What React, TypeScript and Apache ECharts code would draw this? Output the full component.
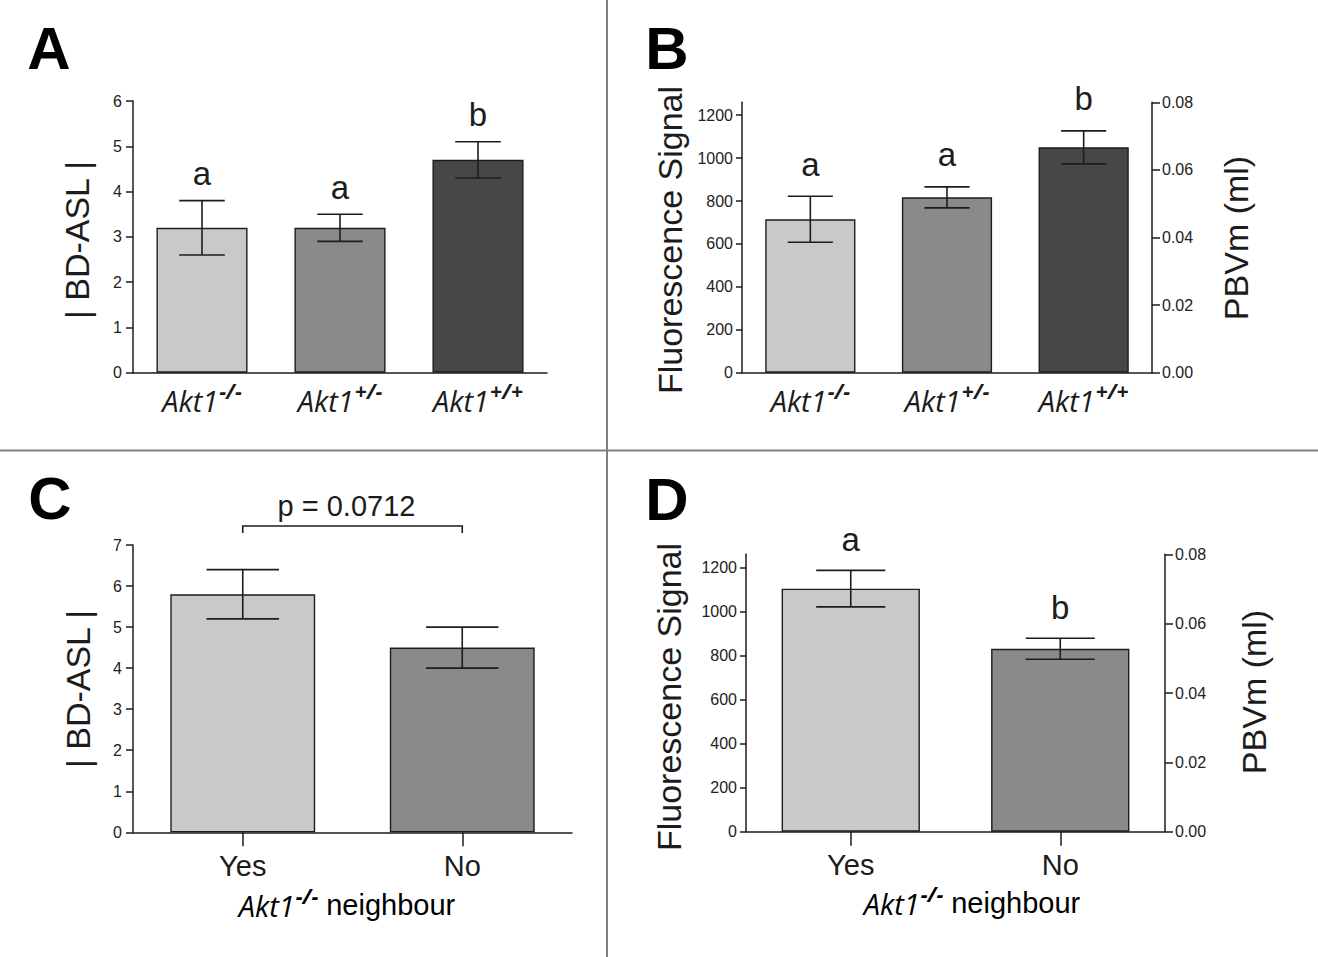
import React, { useEffect, useRef } from 'react';
import * as echarts from 'echarts';

// ---------- data ----------
const genotypes = ['-/-', '+/-', '+/+'];
const neighbourCats = ['Yes', 'No'];

const bdAslA = [3.2, 3.2, 4.7];
const bdAslAErr = [0.6, 0.3, 0.4];
const lettersA = ['a', 'a', 'b'];

const fluoB = [715, 817, 1050];
const fluoBErr = [107, 49, 77];
const lettersB = ['a', 'a', 'b'];

const bdAslC = [5.8, 4.5];
const bdAslCErr = [0.6, 0.5];
const pValueC = 'p = 0.0712';

const fluoD = [1104, 831];
const fluoDErr = [83, 48];
const lettersD = ['a', 'b'];

const ticksFluo = [0, 200, 400, 600, 800, 1000, 1200];

// ---------- styles ----------
const INK = '#1c1c1c';
const SANS = '"Liberation Sans", Arial, Helvetica, sans-serif';
const ITAL = '"Open Sans", "Liberation Sans", sans-serif';
const barColors3 = ['#c9c9c9', '#8a8a8a', '#474747'];
const barColors2 = ['#c9c9c9', '#8a8a8a'];

const grids = [
  { left: 133, top: 101, width: 414, height: 271.7 },
  { left: 742, top: 102.3, width: 410, height: 270.4 },
  { left: 133, top: 545, width: 439, height: 287.3 },
  { left: 746, top: 554.3, width: 419, height: 277.4 },
];

const axisLine = { show: true, lineStyle: { color: INK, width: 1.5 } };
const tickFont = { fontFamily: SANS, fontSize: 16, color: '#222' };

const genoRich = {
  it: { fontFamily: ITAL, fontStyle: 'italic', fontSize: 29, color: INK },
  sup: { fontFamily: ITAL, fontStyle: 'italic', fontWeight: 'bold', fontSize: 21, color: INK, verticalAlign: 'top', padding: [0, 0, 18, 1] },
};

function catAxis(gridIndex: number, data: string[], geno: boolean, ticks: boolean, margin: number) {
  return {
    type: 'category',
    gridIndex,
    data,
    axisLine,
    axisTick: { show: ticks, alignWithLabel: true, length: 14, lineStyle: { color: INK, width: 1.5 } },
    axisLabel: geno
      ? { margin, formatter: (v: string) => `{it|Akt1}{sup|${v}}`, rich: genoRich }
      : { margin, fontFamily: SANS, fontSize: 29, color: INK },
    splitLine: { show: false },
  };
}

function valAxis(gridIndex: number, extra: any) {
  return {
    type: 'value',
    gridIndex,
    axisLine,
    axisTick: { show: true, length: 7, lineStyle: { color: INK, width: 1.5 } },
    axisLabel: { ...tickFont, margin: 11, formatter: (v: number) => String(v) },
    splitLine: { show: false },
    ...extra,
  };
}

function fluoAxis(gridIndex: number) {
  return valAxis(gridIndex, {
    min: 0,
    max: 1260,
    axisTick: { show: true, length: 6, customValues: ticksFluo, lineStyle: { color: INK, width: 1.5 } },
    axisLabel: { ...tickFont, margin: 9, customValues: ticksFluo, formatter: (v: number) => String(v) },
  });
}

function pbvmAxis(gridIndex: number) {
  return valAxis(gridIndex, {
    position: 'right',
    min: 0,
    max: 0.08,
    interval: 0.02,
    axisTick: { show: true, length: 8, lineStyle: { color: INK, width: 1.5 } },
    axisLabel: { ...tickFont, margin: 10, formatter: (v: number) => v.toFixed(2) },
  });
}

function barSeries(xi: number, yi: number, values: number[], colors: string[]) {
  return {
    type: 'bar',
    xAxisIndex: xi,
    yAxisIndex: yi,
    barWidth: '66%',
    itemStyle: { borderColor: INK, borderWidth: 1.4 },
    data: values.map((v, i) => ({ value: v, itemStyle: { color: colors[i] } })),
  };
}

function errorSeries(xi: number, yi: number, means: number[], errs: number[], letters: string[] | null, gap: number) {
  return {
    type: 'custom',
    xAxisIndex: xi,
    yAxisIndex: yi,
    z: 5,
    clip: false,
    silent: true,
    encode: { x: 0, y: 1 },
    data: means.map((m, i) => [i, m, errs[i]]),
    renderItem: (params: any, api: any) => {
      const i = api.value(0);
      const m = api.value(1);
      const e = api.value(2);
      const top = api.coord([i, m + e]);
      const bot = api.coord([i, m - e]);
      const band = api.size([1, 0])[0];
      const hw = band * 0.165;
      const ls = { stroke: INK, lineWidth: 1.6 };
      const children: any[] = [
        { type: 'line', shape: { x1: top[0], y1: top[1], x2: bot[0], y2: bot[1] }, style: ls },
        { type: 'line', shape: { x1: top[0] - hw, y1: top[1], x2: top[0] + hw, y2: top[1] }, style: ls },
        { type: 'line', shape: { x1: bot[0] - hw, y1: bot[1], x2: bot[0] + hw, y2: bot[1] }, style: ls },
      ];
      if (letters) {
        children.push({
          type: 'text',
          x: top[0],
          y: top[1] - gap,
          style: {
            text: letters[params.dataIndex],
            align: 'center',
            verticalAlign: 'middle',
            fontSize: 33,
            fontFamily: SANS,
            fill: INK,
          },
        });
      }
      return { type: 'group', children };
    },
  };
}

function bracketSeries() {
  return {
    type: 'custom',
    xAxisIndex: 2,
    yAxisIndex: 3,
    z: 5,
    clip: false,
    silent: true,
    encode: { x: 0, y: 1 },
    data: [[0, 0]],
    renderItem: (params: any, api: any) => {
      const a = api.coord([0, 0]);
      const b = api.coord([1, 0]);
      const y = params.coordSys.y - 19;
      return {
        type: 'group',
        children: [
          {
            type: 'polyline',
            shape: { points: [[a[0], y + 7], [a[0], y], [b[0], y], [b[0], y + 7]] },
            style: { stroke: INK, lineWidth: 1.6, fill: null },
          },
          {
            type: 'text',
            x: (a[0] + b[0]) / 2 - 6,
            y: y - 20,
            style: { text: pValueC, align: 'center', verticalAlign: 'middle', fontSize: 29, fontFamily: SANS, fill: INK },
          },
        ],
      };
    },
  };
}

function rotText(text: string, x: number, y: number) {
  return {
    type: 'text',
    x,
    y,
    rotation: Math.PI / 2,
    style: { text, align: 'center', verticalAlign: 'middle', fontSize: 34, fontFamily: SANS, fill: INK },
  };
}

function panelLetter(text: string, x: number, y: number) {
  return {
    type: 'text',
    x,
    y,
    style: { text, align: 'center', verticalAlign: 'middle', fontSize: 60, fontWeight: 'bold', fontFamily: SANS, fill: '#000' },
  };
}

function neighbourName(x: number, y: number) {
  return {
    type: 'text',
    x,
    y,
    style: {
      text: '{it|Akt1}{sup|-/-}{n| neighbour}',
      align: 'center',
      verticalAlign: 'middle',
      rich: {
        ...genoRich,
        n: { fontFamily: SANS, fontSize: 29, color: INK },
      },
    },
  };
}

function buildOption(): any {
  return {
    animation: false,
    backgroundColor: '#ffffff',
    grid: grids.map((g) => ({ ...g, containLabel: false })),
    xAxis: [
      catAxis(0, genotypes, true, false, 8),
      catAxis(1, genotypes, true, false, 8),
      catAxis(2, neighbourCats, false, true, 19),
      catAxis(3, neighbourCats, false, true, 19),
    ],
    yAxis: [
      valAxis(0, { min: 0, max: 6, interval: 1 }),
      fluoAxis(1),
      pbvmAxis(1),
      valAxis(2, { min: 0, max: 7, interval: 1 }),
      fluoAxis(3),
      pbvmAxis(3),
    ],
    series: [
      barSeries(0, 0, bdAslA, barColors3),
      errorSeries(0, 0, bdAslA, bdAslAErr, lettersA, 27),
      barSeries(1, 1, fluoB, barColors3),
      errorSeries(1, 1, fluoB, fluoBErr, lettersB, 32),
      barSeries(2, 3, bdAslC, barColors2),
      errorSeries(2, 3, bdAslC, bdAslCErr, null, 0),
      bracketSeries(),
      barSeries(3, 4, fluoD, barColors2),
      errorSeries(3, 4, fluoD, fluoDErr, lettersD, 31),
    ],
    graphic: [
      { type: 'line', shape: { x1: 607, y1: 0, x2: 607, y2: 957 }, style: { stroke: '#808080', lineWidth: 2 } },
      { type: 'line', shape: { x1: 0, y1: 450.5, x2: 1318, y2: 450.5 }, style: { stroke: '#808080', lineWidth: 2 } },
      panelLetter('A', 49, 48),
      panelLetter('B', 667, 48),
      panelLetter('C', 50, 498),
      panelLetter('D', 667, 499),
      rotText('| BD-ASL |', 77, 240),
      rotText('Fluorescence Signal', 670, 240),
      rotText('PBVm (ml)', 1236, 238),
      rotText('| BD-ASL |', 78, 689),
      rotText('Fluorescence Signal', 669, 697),
      rotText('PBVm (ml)', 1254, 692),
      neighbourName(347, 905),
      neighbourName(972, 903),
    ],
  };
}

export default function App() {
  const ref = useRef<HTMLDivElement>(null);
  useEffect(() => {
    document.body.style.margin = '0';
    const chart = echarts.init(ref.current as HTMLDivElement, null, { renderer: 'svg' });
    chart.setOption(buildOption());
    return () => {
      chart.dispose();
    };
  }, []);
  return <div ref={ref} style={{ width: 1318, height: 957, background: '#fff' }} />;
}
